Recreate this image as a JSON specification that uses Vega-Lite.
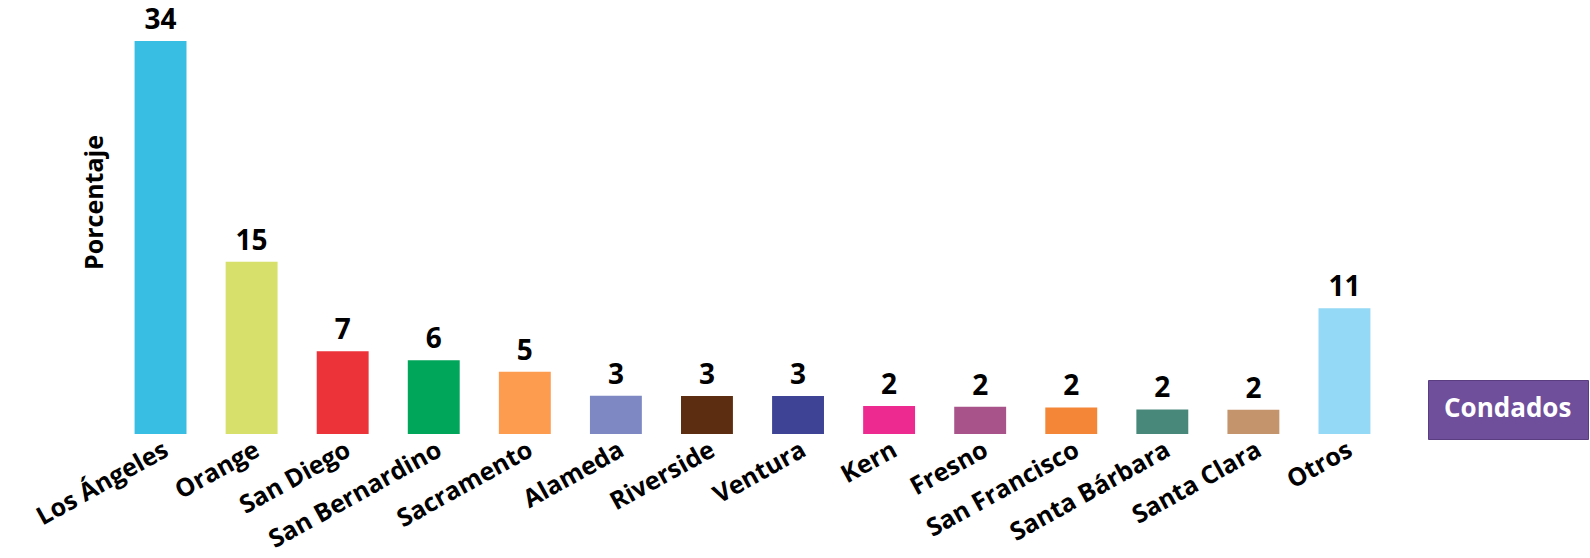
{
  "$schema": "https://vega.github.io/schema/vega-lite/v6.json",
  "autosize": "none",
  "width": 1275,
  "height": 393,
  "padding": {"left": 115, "top": 41, "right": 200, "bottom": 124},
  "background": "white",
  "config": {"view": {"stroke": null}},
  "data": {"values": [
    {"condado": "Los Ángeles", "pct": 34, "color": "#38bde3"},
    {"condado": "Orange", "pct": 14.9, "color": "#d6e06a"},
    {"condado": "San Diego", "pct": 7.16, "color": "#ec3339"},
    {"condado": "San Bernardino", "pct": 6.38, "color": "#00a65a"},
    {"condado": "Sacramento", "pct": 5.38, "color": "#fd9b4e"},
    {"condado": "Alameda", "pct": 3.3, "color": "#7e88c3"},
    {"condado": "Riverside", "pct": 3.28, "color": "#5c2d10"},
    {"condado": "Ventura", "pct": 3.28, "color": "#3f4396"},
    {"condado": "Kern", "pct": 2.42, "color": "#ec2a8f"},
    {"condado": "Fresno", "pct": 2.36, "color": "#a8538a"},
    {"condado": "San Francisco", "pct": 2.3, "color": "#f48638"},
    {"condado": "Santa Bárbara", "pct": 2.13, "color": "#48887a"},
    {"condado": "Santa Clara", "pct": 2.1, "color": "#c4946c"},
    {"condado": "Otros", "pct": 10.87, "color": "#94d9f5"}
  ]},
  "encoding": {
    "x": {
      "field": "condado", "type": "nominal", "sort": null,
      "scale": {"paddingInner": 0.43, "paddingOuter": 0.215},
      "axis": {"title": null, "labelAngle": -29, "domain": false, "ticks": false, "labelPadding": 3,
               "labelFont": "Open Sans", "labelFontSize": 25, "labelFontWeight": "bold",
               "labelColor": "black", "labelLimit": 400}
    },
    "y": {
      "field": "pct", "type": "quantitative",
      "scale": {"domain": [0, 34], "nice": false},
      "axis": {"title": "Porcentaje", "domain": false, "ticks": false, "labels": false, "grid": false,
               "titleFont": "Open Sans", "titleFontSize": 25, "titleFontWeight": "bold", "titleColor": "black",
               "titleAnchor": "middle", "titleY": 161, "titleX": -8, "titleAngle": -90, "titleBaseline": "bottom"}
    }
  },
  "layer": [
    {
      "mark": {"type": "bar"},
      "encoding": {
        "color": {"field": "color", "type": "nominal", "scale": null, "legend": null},
        "stroke": {"datum": "Condados", "scale": {"range": ["#ffffff00"]},
          "legend": {
            "orient": "none", "legendX": 1313, "legendY": 339, "title": "Condados",
            "titleFont": "Open Sans", "titleFontSize": 26, "titleFontWeight": "bold", "titleColor": "white",
            "fillColor": "#6f4f9c", "strokeColor": "#5a3d80", "padding": 16, "symbolSize": 0, "symbolOpacity": 0, "symbolStrokeWidth": 0,
            "labelExpr": "''", "labelFontSize": 1, "labelOpacity": 0, "labelOffset": 0, "titlePadding": 0
          }
        }
      }
    },
    {
      "mark": {"type": "text", "baseline": "bottom", "dy": -6, "font": "Open Sans", "fontSize": 28, "fontWeight": "bold", "color": "black"},
      "encoding": {"text": {"field": "pct", "type": "quantitative", "format": ".0f"}}
    }
  ]
}
